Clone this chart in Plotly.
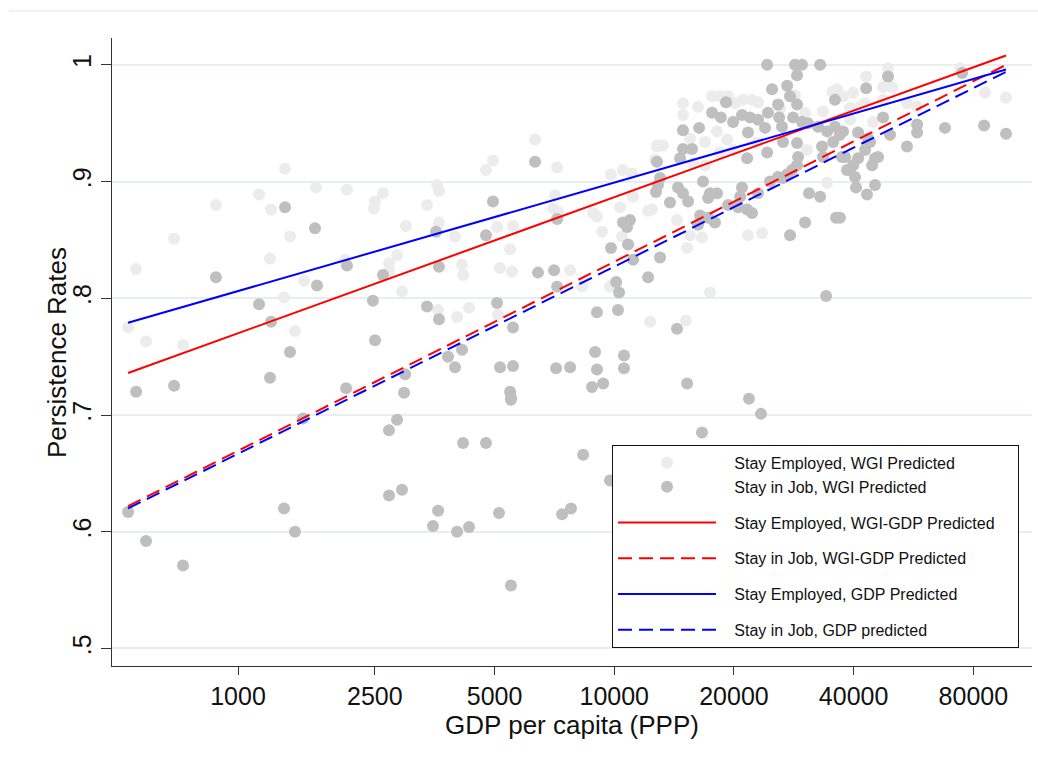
import plotly.graph_objects as go

# Log GDP per capita (PPP) and persistence rates by country
se_lngdp = [7.275, 7.456, 7.637, 7.848, 7.801, 7.795, 7.123, 6.871, 7.193, 7.982, 7.304, 6.626,
            7.187, 6.404, 7.626, 7.930, 7.883, 7.883, 7.386, 7.269, 7.959, 6.357, 6.462, 6.678,
            7.333, 8.737, 8.491, 8.450, 8.866, 8.164, 8.175, 8.105, 8.175, 8.269, 8.515, 8.608,
            8.591, 8.854, 8.842, 8.871, 9.076, 9.099, 9.181, 9.251, 9.304, 9.310, 9.398, 9.450,
            9.129, 9.234, 9.246, 8.310, 8.316, 8.532, 8.602, 8.942, 9.012, 8.351, 8.281, 8.170,
            8.520, 9.175, 9.409, 9.602, 9.690, 9.772, 9.819, 9.866, 9.953, 10.006, 10.041, 9.906,
            10.474, 10.503, 9.602, 9.801, 9.731, 9.860, 9.643, 9.485, 9.450, 9.819, 9.895, 10.035,
            9.439, 10.327, 9.731, 9.661, 10.316, 10.421, 10.445, 9.421, 9.567, 9.643, 9.713, 9.626,
            9.982, 10.064, 9.760, 9.620, 10.801, 10.673, 10.772, 10.825, 10.597, 10.538, 11.368,
            11.491, 10.667, 10.579, 10.637, 11.222, 10.912, 10.971, 10.713, 10.579, 10.772, 10.257,
            10.170]
se_rate = [0.911, 0.895, 0.893, 0.890, 0.883, 0.877, 0.889, 0.880, 0.876, 0.862, 0.853, 0.851,
           0.834, 0.825, 0.833, 0.837, 0.830, 0.823, 0.815, 0.801, 0.806, 0.775, 0.763, 0.760,
           0.772, 0.936, 0.918, 0.910, 0.912, 0.897, 0.892, 0.880, 0.865, 0.853, 0.861, 0.862,
           0.842, 0.888, 0.877, 0.874, 0.873, 0.870, 0.906, 0.910, 0.907, 0.887, 0.875, 0.931,
           0.857, 0.878, 0.853, 0.829, 0.820, 0.826, 0.823, 0.824, 0.810, 0.792, 0.784, 0.790,
           0.786, 0.810, 0.780, 0.967, 0.964, 0.973, 0.973, 0.973, 0.970, 0.970, 0.968, 0.967,
           0.977, 0.979, 0.957, 0.943, 0.934, 0.936, 0.937, 0.931, 0.930, 0.925, 0.927, 0.933,
           0.919, 0.927, 0.914, 0.916, 0.959, 0.960, 0.899, 0.876, 0.867, 0.854, 0.852, 0.843,
           0.854, 0.856, 0.805, 0.781, 0.997, 0.990, 0.981, 0.981, 0.976, 0.973, 0.976,
           0.972, 0.967, 0.963, 0.964, 0.997, 0.967, 0.964, 0.951, 0.953, 0.970, 0.974,
           0.963]

sj_lngdp = [7.275, 7.450, 6.871, 7.462, 7.637, 7.848, 7.123, 7.789, 7.193, 7.801, 7.304, 7.187,
            6.404, 6.626, 7.632, 7.977, 7.971, 7.380, 7.930, 7.883, 6.357, 6.462, 6.678, 7.269,
            7.333, 7.883, 7.959, 8.170, 8.140, 8.316, 8.450, 8.281, 8.351, 8.526, 8.596, 8.596,
            8.895, 8.947, 9.018, 9.175, 8.737, 8.491, 8.866, 8.158, 8.450, 8.175, 8.754, 8.848,
            8.866, 9.181, 9.281, 9.251, 9.292, 9.275, 9.310, 9.211, 9.228, 9.398, 9.444, 9.456,
            9.468, 8.105, 8.175, 8.515, 8.608, 9.099, 9.222, 8.228, 8.310, 8.269, 8.532, 8.608,
            8.860, 8.942, 9.088, 9.099, 9.257, 9.257, 9.070, 9.135, 8.591, 8.596, 9.567, 9.626,
            9.988, 10.058, 9.713, 10.439, 10.094, 10.257, 10.298, 10.404, 10.269, 10.211, 10.123,
            9.854, 10.228, 10.269, 10.158, 10.491, 9.772, 9.824, 10.099, 9.947, 9.994, 9.895,
            10.041, 10.246, 10.298, 10.333, 10.164, 10.181, 9.602, 9.696, 9.982, 10.082, 10.392,
            10.445, 10.491, 10.520, 10.187, 10.269, 10.415, 10.480, 9.602, 9.655, 10.094, 9.977,
            10.275, 10.269, 10.421, 10.550, 9.585, 9.450, 10.240, 10.211, 10.187, 10.561, 9.719,
            9.468, 10.111, 10.158, 9.573, 9.602, 9.632, 9.760, 9.801, 9.749, 9.947, 9.936, 10.041,
            10.339, 10.404, 9.526, 9.866, 9.924, 9.977, 10.006, 9.702, 9.749, 9.789, 9.690, 10.316,
            10.497, 10.228, 11.234, 10.801, 10.673, 10.772, 10.813, 10.971, 10.971, 11.134, 11.363,
            11.491, 10.912, 10.626, 10.684, 10.696, 10.626, 10.597, 10.579, 10.608, 10.614, 10.678,
            10.725, 10.743, 10.708, 10.725, 10.538, 10.532, 10.520, 10.667]
sj_rate = [0.878, 0.860, 0.818, 0.811, 0.828, 0.820, 0.795, 0.798, 0.780, 0.764, 0.754, 0.732,
           0.720, 0.725, 0.723, 0.735, 0.719, 0.697, 0.696, 0.687, 0.617, 0.592, 0.571, 0.620,
           0.600, 0.631, 0.636, 0.618, 0.605, 0.676, 0.676, 0.600, 0.604, 0.616, 0.713, 0.554,
           0.615, 0.620, 0.666, 0.644, 0.917, 0.883, 0.868, 0.857, 0.854, 0.827, 0.822, 0.824,
           0.810, 0.843, 0.846, 0.865, 0.867, 0.861, 0.833, 0.814, 0.805, 0.818, 0.891, 0.897,
           0.835, 0.793, 0.782, 0.796, 0.775, 0.788, 0.790, 0.750, 0.756, 0.741, 0.741, 0.742,
           0.740, 0.741, 0.754, 0.739, 0.751, 0.740, 0.724, 0.727, 0.720, 0.715, 0.774, 0.727,
           0.714, 0.701, 0.685, 0.802, 1.000, 1.000, 1.000, 1.000, 0.991, 0.982, 0.979,
           0.968, 0.973, 0.966, 0.966, 0.970, 0.959, 0.955, 0.959, 0.957, 0.955, 0.951,
           0.953, 0.955, 0.951, 0.950, 0.955, 0.947, 0.944, 0.946, 0.942, 0.946, 0.947,
           0.943, 0.947, 0.940, 0.934, 0.933, 0.930, 0.934, 0.928, 0.928, 0.925, 0.920,
           0.921, 0.914, 0.921, 0.921, 0.920, 0.917, 0.910, 0.906, 0.903, 0.910, 0.900,
           0.903, 0.900, 0.904, 0.895, 0.890, 0.883, 0.890, 0.890, 0.886, 0.895, 0.887, 0.890,
           0.890, 0.887, 0.882, 0.880, 0.878, 0.876, 0.873, 0.871, 0.869, 0.865, 0.863, 0.865,
           0.869, 0.854, 0.993, 0.990, 0.980, 0.955, 0.940, 0.949, 0.942, 0.946, 0.948,
           0.941, 0.930, 0.942, 0.937, 0.934, 0.920, 0.914, 0.910, 0.904, 0.895, 0.889,
           0.920, 0.921, 0.914, 0.897, 0.943, 0.921, 0.869, 0.927]

# Fitted predictions at the ends of the GDP range
fit_lngdp = [6.357, 11.491]
se_wgi_gdp_fit = [0.736, 1.008]
sj_wgi_gdp_fit = [0.622, 1.000]
se_gdp_fit = [0.779, 0.996]
sj_gdp_fit = [0.620, 0.994]

# Axis labels (log GDP positions labelled in dollars)
x_tick_pos = [7.0, 7.8, 8.5, 9.2, 9.9, 10.6, 11.3]
x_tick_text = ["1000", "2500", "5000", "10000", "20000", "40000", "80000"]
y_tick_pos = [0.5, 0.6, 0.7, 0.8, 0.9, 1.0]
y_tick_text = [".5", ".6", ".7", ".8", ".9", "1"]

FONT = "Arial, 'Liberation Sans', sans-serif"
DASH = "14px,7px"
PAD = "\u00a0\u00a0\u00a0"  # gap between legend key and its label


def entry(label, trailing=""):
    return PAD + label + trailing


fig = go.Figure()
fig.add_trace(go.Scatter(
    x=se_lngdp, y=se_rate, mode="markers", name=entry("Stay Employed, WGI Predicted"),
    marker=dict(color="#ececec", size=12, line=dict(width=0)), legendgroup="pts"))
fig.add_trace(go.Scatter(
    x=sj_lngdp, y=sj_rate, mode="markers", name=entry("Stay in Job, WGI Predicted"),
    marker=dict(color="#bfbfbf", size=12, line=dict(width=0)), legendgroup="pts"))
fig.add_trace(go.Scatter(
    x=fit_lngdp, y=se_wgi_gdp_fit, mode="lines",
    name=entry("Stay Employed, WGI-GDP Predicted", "\u00a0\u00a0\u00a0\u00a0"),
    line=dict(color="#ff0000", width=2), legendgroup="l1"))
fig.add_trace(go.Scatter(
    x=fit_lngdp, y=sj_wgi_gdp_fit, mode="lines", name=entry("Stay in Job, WGI-GDP Predicted"),
    line=dict(color="#ff0000", width=2, dash=DASH), legendgroup="l2"))
fig.add_trace(go.Scatter(
    x=fit_lngdp, y=se_gdp_fit, mode="lines", name=entry("Stay Employed, GDP Predicted"),
    line=dict(color="#0000ff", width=2), legendgroup="l3"))
fig.add_trace(go.Scatter(
    x=fit_lngdp, y=sj_gdp_fit, mode="lines", name=entry("Stay in Job, GDP predicted"),
    line=dict(color="#0000ff", width=2, dash=DASH), legendgroup="l4"))

fig.update_layout(
    width=1038, height=763,
    margin=dict(l=112, r=6, t=38, b=97),
    paper_bgcolor="white", plot_bgcolor="white",
    font=dict(family=FONT, color="#111111"),
    legend=dict(
        x=0.5435, y=0.352, xanchor="left", yanchor="top",
        bordercolor="#111111", borderwidth=1, bgcolor="white",
        font=dict(size=16, family=FONT, color="#111111"),
        tracegroupgap=12, itemwidth=98, traceorder="grouped",
    ),
    shapes=[dict(type="line", xref="paper", yref="paper", x0=-0.112, x1=1.01,
                 y0=1.043, y1=1.043, line=dict(color="#e8eef0", width=1.5))],
    annotations=[dict(text="Persistence Rates", xref="paper", yref="paper",
                      x=-0.0598, y=0.5, textangle=-90, showarrow=False,
                      xanchor="center", yanchor="middle",
                      font=dict(size=26, family=FONT, color="#111111"))],
)

fig.update_xaxes(
    range=[6.263, 11.643], tickvals=x_tick_pos, ticktext=x_tick_text,
    showgrid=False, zeroline=False, showline=True, linecolor="#333333", linewidth=1.3,
    ticks="outside", ticklen=8, tickcolor="#333333", tickwidth=1.3,
    tickfont=dict(size=25, family=FONT, color="#111111"),
    title=dict(text="GDP per capita (PPP)", font=dict(size=26, family=FONT, color="#111111"),
               standoff=0),
)
fig.update_yaxes(
    range=[0.485, 1.023], tickvals=y_tick_pos, ticktext=y_tick_text, tickangle=-90,
    showgrid=True, gridcolor="#e6eef0", gridwidth=1.5, zeroline=False,
    showline=True, linecolor="#333333", linewidth=1.3,
    ticks="outside", ticklen=10, tickcolor="#333333", tickwidth=1.3,
    tickfont=dict(size=25, family=FONT, color="#111111"),
)

fig.write_html("out.html")
